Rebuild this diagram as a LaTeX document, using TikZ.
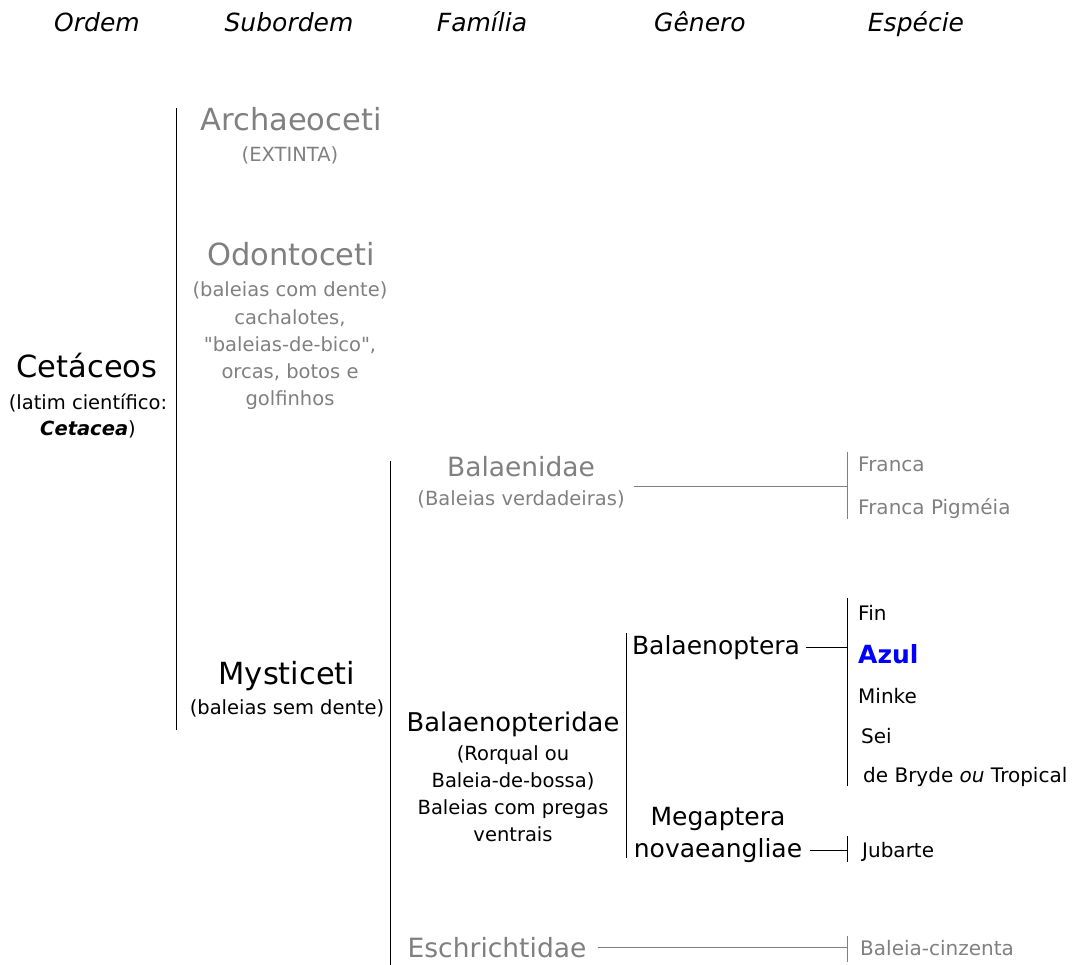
\documentclass[tikz,border=0pt]{standalone}
\usepackage{fontspec}
\setmainfont{DejaVu Sans}
\usepackage{xcolor}
\definecolor{taxgray}{HTML}{808080}
\definecolor{azulblue}{HTML}{0000FF}
\newcommand\plainquote{\XeTeXglyph\XeTeXcharglyph"22\relax}

\begin{document}
\begin{tikzpicture}[
    x=1pt, y=-1pt,
    every node/.style={anchor=base, inner sep=3pt},
    head/.style={font=\fontsize{25}{30}\selectfont\itshape},
    big/.style={font=\fontsize{30.5}{36}\selectfont},
    mid/.style={font=\fontsize{25}{30}\selectfont},
    fam/.style={font=\fontsize{26.5}{32}\selectfont},
    small/.style={font=\fontsize{19.5}{24}\selectfont},
    spp/.style={font=\fontsize{20}{24}\selectfont, anchor=base west},
    faded/.style={text=taxgray},
    bar/.style={line width=1pt},
    link/.style={line width=1pt}
]
    \useasboundingbox (0,0) rectangle (1083,965);

    % Column headings
    \node[head] (ordem) at (97,32) {Ordem};
    \node[head] (subordem) at (289,32) {Subordem};
    \node[head] (familia) at (482,32) {Família};
    \node[head] (genero) at (700,32) {Gênero};
    \node[head] (especie) at (916,32) {Espécie};

    % Order
    \node[big] (cetaceos) at (87,377) {Cetáceos};
    \node[small] (cetlatim) at (88,409) {(latim científico:};
    \node[small] (cetsci) at (88,435) {\textbf{\textit{Cetacea}})};

    % Suborders
    \node[big, faded] (archaeo) at (291,131) {Archaeoceti};
    \node[small, faded] (archaeo1) at (290,162) {(EXTINTA)};
    \node[big, faded] (odonto) at (291,266) {Odontoceti};
    \node[small, faded] (odonto1) at (290,297) {(baleias com dente)};
    \node[small, faded] (odonto2) at (290,324) {cachalotes,};
    \node[small, faded] (odonto3) at (290,351) {\plainquote baleias-de-bico\plainquote,};
    \node[small, faded] (odonto4) at (290,378) {orcas, botos e};
    \node[small, faded] (odonto5) at (290,405) {golfinhos};
    \node[big] (mysti) at (287,684) {Mysticeti};
    \node[small] (mysti1) at (287,714) {(baleias sem dente)};

    % Families
    \node[fam, faded] (balaenidae) at (521,476) {Balaenidae};
    \node[small, faded] (balaenidae1) at (521,505) {(Baleias verdadeiras)};
    \node[mid, font=\fontsize{25.8}{31}\selectfont] (balaenop) at (513,731) {Balaenopteridae};
    \node[small] (balaenop1) at (513,760) {(Rorqual ou};
    \node[small] (balaenop2) at (513,787) {Baleia-de-bossa)};
    \node[small] (balaenop3) at (513,814) {Baleias com pregas};
    \node[small] (balaenop4) at (513,841) {ventrais};
    \node[fam, faded] (eschri) at (497,957) {Eschrichtidae};

    % Genera
    \node[mid] (balaenoptera) at (716,654) {Balaenoptera};
    \node[mid] (megaptera) at (718,825) {Megaptera};
    \node[mid] (novae) at (718,857) {novaeangliae};

    % Species
    \node[spp, faded] (franca) at (855,471) {Franca};
    \node[spp, faded] (pigmeia) at (855,514) {Franca Pigméia};
    \node[spp] (fin) at (855,620) {Fin};
    \node[spp, font=\fontsize{25}{30}\selectfont\bfseries, text=azulblue] (azul) at (855,663) {Azul};
    \node[spp] (minke) at (855,703) {Minke};
    \node[spp] (sei) at (858,743) {Sei};
    \node[spp] (bryde) at (860,782) {de Bryde \textit{ou} Tropical};
    \node[spp] (jubarte) at (859,857) {Jubarte};
    \node[spp, faded] (cinzenta) at (857,955) {Baleia-cinzenta};

    % Bracket bars
    \coordinate (subtop) at (176,108);
    \coordinate (subbot) at (176,730);
    \coordinate (famtop) at (390,461);
    \coordinate (fambot) at (390,965);
    \coordinate (gentop) at (626,633);
    \coordinate (genbot) at (626,858);
    \coordinate (balltop) at (847,452);
    \coordinate (ballbot) at (847,519);
    \coordinate (bpttop) at (847,598);
    \coordinate (bptbot) at (847,786);
    \coordinate (megtop) at (847,836);
    \coordinate (megbot) at (847,862);
    \coordinate (esctop) at (847,936);
    \coordinate (escbot) at (847,962);

    \draw[bar] (subtop) -- (subbot);
    \draw[bar] (famtop) -- (fambot);
    \draw[bar] (gentop) -- (genbot);
    \draw[bar, taxgray] (balltop) -- (ballbot);
    \draw[bar] (bpttop) -- (bptbot);
    \draw[bar] (megtop) -- (megbot);
    \draw[bar, taxgray] (esctop) -- (escbot);

    % Links from family / genus to species
    \draw[link, taxgray, shorten <=6pt] (balaenidae1.north east) -- (balltop |- balaenidae1.north east);
    \draw[link, shorten <=3pt] (balaenoptera.east) -- (bpttop |- balaenoptera.east);
    \draw[link, shorten <=5pt] (novae.east) -- (megtop |- novae.east);
    \draw[link, taxgray, shorten <=8pt] (eschri.east) -- (esctop |- eschri.east);
\end{tikzpicture}
\end{document}
